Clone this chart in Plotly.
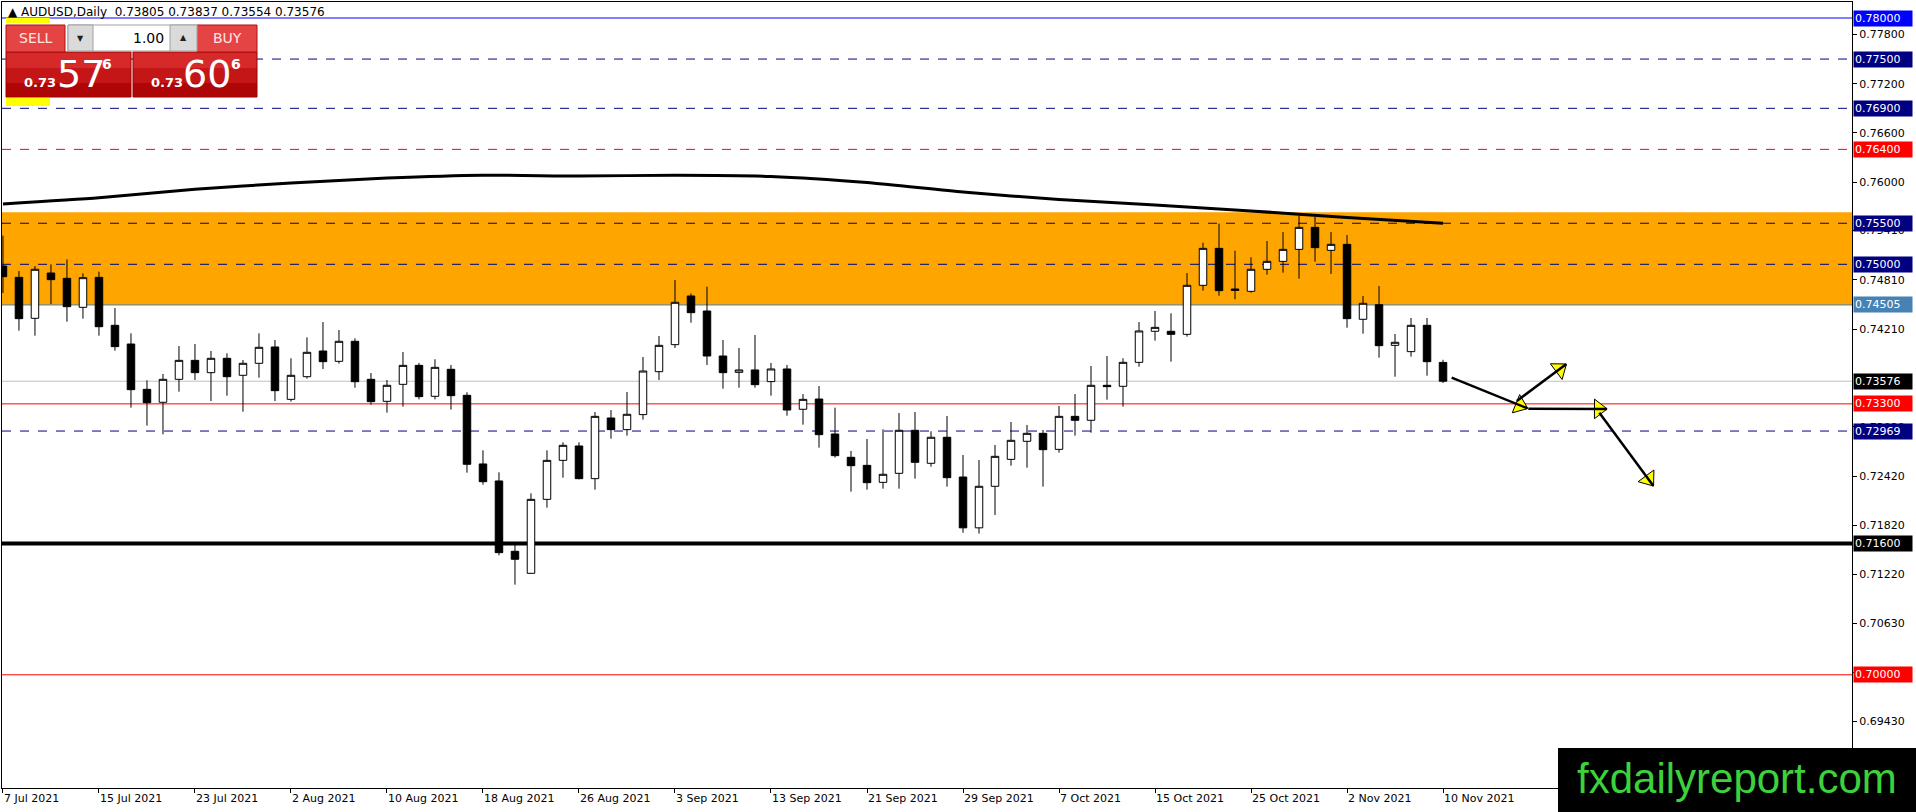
import math
import pandas as pd
import plotly.graph_objects as go

# daily bars, 7 Jul 2021 .. 10 Nov 2021 (weekdays)
dates = [d.strftime('%Y-%m-%d') for d in pd.bdate_range('2021-07-07', '2021-11-10')]

opens = [0.74979, 0.74841, 0.74342, 0.74894, 0.74829, 0.74476, 0.74841, 0.74257, 0.74029, 0.73477,
         0.73319, 0.73599, 0.73830, 0.73680, 0.73855, 0.73648, 0.73794, 0.73993, 0.73355, 0.73631,
         0.73944, 0.73818, 0.74062, 0.73599, 0.73331, 0.73538, 0.73769, 0.73392, 0.73721, 0.73404,
         0.72568, 0.72361, 0.71504, 0.71236, 0.72137, 0.72612, 0.72787, 0.72389, 0.73128, 0.72986,
         0.73169, 0.73692, 0.74021, 0.74614, 0.74431, 0.73883, 0.73684, 0.73713, 0.73571, 0.73725,
         0.73234, 0.73359, 0.72933, 0.72649, 0.72551, 0.72344, 0.72454, 0.72978, 0.72576, 0.72893,
         0.72409, 0.71790, 0.72296, 0.72624, 0.72844, 0.72941, 0.72746, 0.73148, 0.73100, 0.73526,
         0.73514, 0.73806, 0.74184, 0.74184, 0.74147, 0.74744, 0.75194, 0.74699, 0.74671, 0.74939,
         0.75036, 0.75182, 0.75450, 0.75170, 0.75243, 0.74330, 0.74508, 0.74013, 0.73936, 0.74257,
         0.73805]
highs = [0.75350, 0.74918, 0.74979, 0.74999, 0.75060, 0.74890, 0.74910, 0.74468, 0.74159, 0.73587,
         0.73664, 0.74005, 0.74029, 0.73944, 0.73916, 0.73834, 0.74159, 0.74078, 0.73855, 0.74110,
         0.74297, 0.74200, 0.74098, 0.73676, 0.73591, 0.73932, 0.73798, 0.73843, 0.73774, 0.73441,
         0.72734, 0.72466, 0.71593, 0.72210, 0.72734, 0.72832, 0.72832, 0.73201, 0.73225, 0.73445,
         0.73871, 0.74127, 0.74809, 0.74646, 0.74728, 0.74078, 0.73981, 0.74139, 0.73798, 0.73774,
         0.73420, 0.73518, 0.73254, 0.72726, 0.72872, 0.72990, 0.73189, 0.73201, 0.72966, 0.73152,
         0.72677, 0.72616, 0.72799, 0.73079, 0.73043, 0.72982, 0.73274, 0.73420, 0.73761, 0.73883,
         0.73855, 0.74297, 0.74431, 0.74403, 0.74894, 0.75263, 0.75495, 0.75166, 0.75085, 0.75284,
         0.75393, 0.75592, 0.75576, 0.75393, 0.75357, 0.74614, 0.74736, 0.74151, 0.74346, 0.74346,
         0.73837]
lows = [0.74650, 0.74192, 0.74131, 0.74516, 0.74301, 0.74338, 0.74131, 0.73948, 0.73254, 0.73035,
        0.72929, 0.73449, 0.73591, 0.73335, 0.73400, 0.73205, 0.73619, 0.73335, 0.73327, 0.73607,
        0.73725, 0.73790, 0.73497, 0.73290, 0.73193, 0.73266, 0.73355, 0.73355, 0.73230, 0.72462,
        0.72316, 0.71455, 0.71098, 0.71230, 0.72036, 0.72401, 0.72381, 0.72255, 0.72876, 0.72913,
        0.73108, 0.73591, 0.73981, 0.74289, 0.73774, 0.73485, 0.73497, 0.73497, 0.73400, 0.73156,
        0.73047, 0.72767, 0.72645, 0.72231, 0.72255, 0.72267, 0.72267, 0.72389, 0.72535, 0.72292,
        0.71730, 0.71720, 0.71947, 0.72547, 0.72523, 0.72292, 0.72706, 0.72913, 0.72949, 0.73351,
        0.73266, 0.73753, 0.74070, 0.73814, 0.74119, 0.74679, 0.74618, 0.74573, 0.74654, 0.74874,
        0.74898, 0.74825, 0.75032, 0.74882, 0.74228, 0.74155, 0.73863, 0.73631, 0.73875, 0.73644,
        0.73554]
closes = [0.74849, 0.74338, 0.74939, 0.74813, 0.74484, 0.74837, 0.74240, 0.73997, 0.73473, 0.73315,
          0.73599, 0.73830, 0.73680, 0.73855, 0.73631, 0.73794, 0.73989, 0.73461, 0.73648, 0.73928,
          0.73814, 0.74062, 0.73570, 0.73327, 0.73526, 0.73769, 0.73388, 0.73745, 0.73400, 0.72564,
          0.72352, 0.71488, 0.71407, 0.72137, 0.72612, 0.72795, 0.72389, 0.73148, 0.72986, 0.73173,
          0.73700, 0.74013, 0.74537, 0.74411, 0.73883, 0.73680, 0.73713, 0.73534, 0.73725, 0.73225,
          0.73355, 0.72925, 0.72669, 0.72547, 0.72340, 0.72442, 0.72978, 0.72588, 0.72893, 0.72401,
          0.71790, 0.72296, 0.72661, 0.72856, 0.72941, 0.72742, 0.73148, 0.73100, 0.73526, 0.73510,
          0.73806, 0.74188, 0.74232, 0.74147, 0.74744, 0.75194, 0.74679, 0.74683, 0.74939, 0.75036,
          0.75182, 0.75450, 0.75203, 0.75243, 0.74338, 0.74525, 0.74009, 0.74050, 0.74257, 0.73814,
          0.73576]

# moving average
ma_dates = ['2021-07-07', '2021-07-15', '2021-07-23', '2021-08-02', '2021-08-10', '2021-08-18',
            '2021-08-26', '2021-09-03', '2021-09-13', '2021-09-21', '2021-09-29', '2021-10-07',
            '2021-10-15', '2021-10-25', '2021-11-02', '2021-11-10']
ma_values = [0.75735, 0.75810, 0.75915, 0.75990, 0.76050, 0.76085, 0.76075, 0.76085, 0.76070,
             0.75995, 0.75880, 0.75790, 0.75722, 0.75650, 0.75570, 0.75499]

# horizontal levels: (price, line colour, dash, width, label bg)
levels = [
    (0.78000, '#0000FF', 'solid', 1, '#0000FF'),
    (0.77500, '#000080', 'dash', 1, '#000080'),
    (0.76900, '#000080', 'dash', 1, '#000080'),
    (0.76400, '#FF0000', 'dash', 1, '#FF0000'),
    (0.75500, '#000080', 'dash', 1, '#000080'),
    (0.75000, '#000080', 'dash', 1, '#000080'),
    (0.74505, '#4682B4', 'solid', 1, '#4682B4'),
    (0.73576, '#C0C0C0', 'solid', 1, '#000000'),
    (0.73300, '#FF0000', 'solid', 1, '#FF0000'),
    (0.72969, '#000080', 'dash', 1, '#000080'),
    (0.71600, '#000000', 'solid', 4, '#000000'),
    (0.70000, '#FF0000', 'solid', 1, '#FF0000'),
]
zone_low, zone_high = 0.74505, 0.75633

ytick_vals = [0.77800, 0.77200, 0.76600, 0.76000, 0.75410, 0.74810, 0.74210, 0.73020,
              0.72420, 0.71820, 0.71220, 0.70630, 0.70030, 0.69430]

# forecast arrows in (bar index, price)
arrows = [
    ((90.54, 0.73619), (95.27, 0.73246)),
    ((94.61, 0.73335), (97.69, 0.73782)),
    ((95.33, 0.73241), (100.23, 0.73238)),
    ((99.77, 0.73193), (103.14, 0.72303)),
]

X_RANGE = [-0.06, 115.56]
Y_RANGE = [0.68621, 0.78195]
PLOT_W, PLOT_H = 1850, 786
FONT = 'DejaVu Sans'

idx = list(range(len(dates)))
tick_idx = idx[::6]
tick_txt = [f"{pd.Timestamp(dates[i]).day} {pd.Timestamp(dates[i]).strftime('%b %Y')}" for i in tick_idx]

fig = go.Figure()
fig.add_trace(go.Candlestick(
    x=idx, open=opens, high=highs, low=lows, close=closes,
    increasing=dict(line=dict(color='black', width=1), fillcolor='white'),
    decreasing=dict(line=dict(color='black', width=1), fillcolor='black'),
    whiskerwidth=0, hoverinfo='skip'))

fig.add_trace(go.Scatter(
    x=[dates.index(d) for d in ma_dates], y=ma_values, mode='lines',
    line=dict(color='black', width=3, shape='spline', smoothing=0.6), hoverinfo='skip'))

shapes = []
shapes.append(dict(type='rect', xref='paper', yref='y', x0=0, x1=1, y0=zone_low, y1=zone_high,
                   fillcolor='#FFA500', line=dict(width=0), layer='below'))
for price, col, dash, w, bg in levels:
    shapes.append(dict(type='line', xref='paper', yref='y', x0=0, x1=1, y0=price, y1=price,
                       line=dict(color=col, dash=dash, width=w), layer='below'))

# arrows: black shafts with yellow heads
xs_per_px = (X_RANGE[1] - X_RANGE[0]) / PLOT_W
ys_per_px = (Y_RANGE[1] - Y_RANGE[0]) / PLOT_H
head_x, head_y, head_ang = [], [], []
for (x0, y0), (x1, y1) in arrows:
    shapes.append(dict(type='line', xref='x', yref='y', x0=x0, y0=y0, x1=x1, y1=y1,
                       line=dict(color='black', width=2.5)))
    dxp = (x1 - x0) / xs_per_px
    dyp = (y1 - y0) / ys_per_px
    L = math.hypot(dxp, dyp)
    back = 8
    head_x.append(x1 - dxp / L * back * xs_per_px)
    head_y.append(y1 - dyp / L * back * ys_per_px)
    head_ang.append(math.degrees(math.atan2(dxp, dyp)))

fig.add_trace(go.Scatter(
    x=head_x, y=head_y, mode='markers', hoverinfo='skip',
    marker=dict(symbol='triangle-up', size=17, color='#FFFF00', angle=head_ang,
                line=dict(color='black', width=1))))


def px_x(p):
    return (p - 2) / PLOT_W


def px_y(p):
    return (788 - p) / PLOT_H


def box(x0, y0, x1, y1, fill, line_col=None, lw=1):
    shapes.append(dict(type='rect', xref='paper', yref='paper',
                       x0=px_x(x0), x1=px_x(x1), y0=px_y(y1), y1=px_y(y0),
                       fillcolor=fill, layer='above',
                       line=dict(width=lw if line_col else 0, color=line_col or fill)))


annotations = []


def label(px, py, text, size, color, xanchor='center', family=FONT):
    annotations.append(dict(xref='paper', yref='paper', x=px_x(px), y=px_y(py), text=text,
                            showarrow=False, xanchor=xanchor, yanchor='middle',
                            font=dict(size=size, color=color, family=family)))


# one-click trading panel
box(6, 18, 50, 23, '#FFFF00')
box(6, 98, 50, 106, '#FFFF00')
for x0, x1 in [(6, 131), (133, 257)]:
    box(x0, 52, x1, 68, '#D62A2A')
    box(x0, 68, x1, 83, '#C41616')
    box(x0, 83, x1, 97, '#AE0606')
    box(x0, 52, x1, 97, 'rgba(0,0,0,0)', '#A00000')
box(6, 25, 65, 52, '#E44444', '#B01010')
box(197, 25, 257, 52, '#E44444', '#B01010')
box(68, 25, 197, 51, '#FFFFFF', '#A0A0A0')
box(68, 25, 93, 51, '#DADADA', '#A0A0A0')
box(170, 25, 197, 51, '#DADADA', '#A0A0A0')
label(36, 38, 'SELL', 14, '#FFE4E4')
label(227, 38, 'BUY', 14, '#FFE4E4')
label(80.5, 39, '▼', 8, '#202020')
label(183.5, 38, '▲', 8, '#202020')
label(166, 38, '1.00', 14, '#000000', xanchor='right')
label(40, 82, '<b>0.73</b>', 13, '#FFFFFF')
label(81, 74, '57', 38, '#FFFFFF')
label(107, 64, '<b>6</b>', 14, '#FFFFFF')
label(167, 82, '<b>0.73</b>', 13, '#FFFFFF')
label(207, 74, '60', 38, '#FFFFFF')
label(236, 64, '<b>6</b>', 14, '#FFFFFF')

# header line
label(6, 12, '▲ AUDUSD,Daily  0.73805 0.73837 0.73554 0.73576', 12, '#000000', xanchor='left')

# price tags on the right scale
for price, col, dash, w, bg in levels:
    annotations.append(dict(xref='paper', yref='y', x=1, y=price, text=f'{price:.5f}',
                            showarrow=False, xanchor='left', yanchor='middle', xshift=1,
                            bgcolor=bg, borderpad=1, width=56, align='left',
                            font=dict(size=11, color='white', family=FONT)))

# watermark
box(1558, 748, 1916, 812, '#000000')
label(1737, 778, 'fxdailyreport.com', 42, '#3CD23C', family='Liberation Sans')

fig.update_layout(
    width=1916, height=812,
    margin=dict(l=2, r=64, t=2, b=24),
    paper_bgcolor='white', plot_bgcolor='white',
    showlegend=False,
    shapes=shapes, annotations=annotations,
    font=dict(family=FONT, size=11, color='black'),
    boxgap=0.33,
    xaxis=dict(range=X_RANGE, rangeslider=dict(visible=False), showgrid=False, zeroline=False,
               showline=True, mirror=True, linecolor='black', linewidth=1,
               ticks='outside', ticklen=4, tickcolor='black',
               tickvals=tick_idx, ticktext=tick_txt, ticklabelposition='outside right',
               tickfont=dict(size=11, family=FONT)),
    yaxis=dict(range=Y_RANGE, side='right', showgrid=False, zeroline=False,
               showline=True, mirror=True, linecolor='black', linewidth=1,
               ticks='outside', ticklen=4, tickcolor='black',
               tickvals=ytick_vals, tickformat='.5f',
               tickfont=dict(size=11, family=FONT)),
)

fig.write_html("out.html", config={'displayModeBar': False},
               post_script="document.body.style.margin='0px';")
